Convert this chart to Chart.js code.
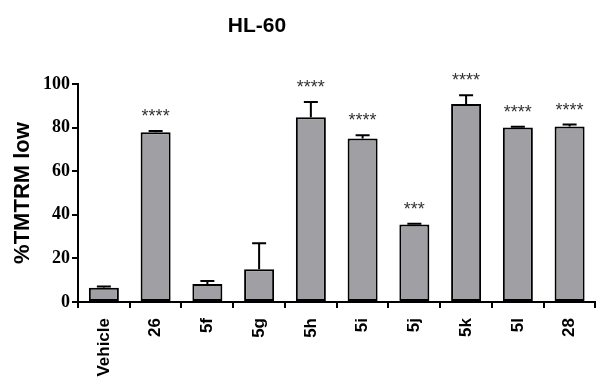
<!DOCTYPE html>
<html>
<head>
<meta charset="utf-8">
<script src="https://cdn.jsdelivr.net/npm/chart.js@4"></script>
<style>
  html, body { margin: 0; padding: 0; background: #fff; }
  #wrap { width: 600px; height: 378px; position: relative; }
</style>
</head>
<body>
<div id="wrap"><canvas id="c" width="600" height="378"></canvas></div>
<script>
const categories = ['Vehicle', '26', '5f', '5g', '5h', '5i', '5j', '5k', '5l', '28'];
const means = [6.5, 77.9, 8.3, 15.0, 84.8, 75.0, 35.6, 90.8, 80.1, 80.5];
const errors = [0.6, 0.5, 1.3, 12.0, 6.9, 1.5, 0.3, 4.0, 0.3, 0.9];
const significance = ['', '****', '', '', '****', '****', '***', '****', '****', '****'];
const yTicks = [0, 20, 40, 60, 80, 100];
const chartTitle = 'HL-60';
const yTitle = '%TMTRM low';

const errorBarPlugin = {
  id: 'errorBars',
  afterDatasetsDraw(chart) {
    const ctx = chart.ctx;
    const meta = chart.getDatasetMeta(0);
    const ys = chart.scales.y;
    ctx.save();
    meta.data.forEach((bar, i) => {
      const x = bar.x;
      const yMean = ys.getPixelForValue(means[i]);
      const yTop = ys.getPixelForValue(means[i] + errors[i]);
      ctx.strokeStyle = '#000';
      ctx.lineWidth = 2;
      ctx.beginPath();
      ctx.moveTo(x, yMean);
      ctx.lineTo(x, yTop);
      ctx.moveTo(x - 7, yTop);
      ctx.lineTo(x + 7, yTop);
      ctx.stroke();
      if (significance[i]) {
        ctx.fillStyle = '#333';
        ctx.font = '18px "Liberation Sans", Arial, sans-serif';
        ctx.textAlign = 'center';
        ctx.textBaseline = 'top';
        ctx.fillText(significance[i], x, yTop - 23);
      }
    });
    ctx.restore();
  }
};

const titlePlugin = {
  id: 'customTitle',
  afterDraw(chart) {
    const ctx = chart.ctx;
    ctx.save();
    ctx.fillStyle = '#000';
    ctx.font = 'bold 21px "Liberation Sans", Arial, sans-serif';
    ctx.textAlign = 'center';
    ctx.textBaseline = 'middle';
    ctx.fillText(chartTitle, 257, 26);
    ctx.restore();
  }
};

new Chart(document.getElementById('c'), {
  type: 'bar',
  data: {
    labels: categories,
    datasets: [{
      data: means,
      backgroundColor: '#a0a0a4',
      borderColor: '#000',
      borderWidth: 2,
      borderSkipped: false,
      barPercentage: 0.58,
      categoryPercentage: 1.0
    }]
  },
  options: {
    responsive: false,
    animation: false,
    devicePixelRatio: 1,
    layout: { padding: { top: 84, right: 0, left: 0, bottom: 0 } },
    plugins: {
      legend: { display: false },
      tooltip: { enabled: false },
      title: { display: false }
    },
    scales: {
      x: {
        grid: { drawOnChartArea: false, drawTicks: true, tickLength: 6, color: '#000', lineWidth: 2 },
        border: { color: '#000', width: 2 },
        ticks: {
          color: '#000',
          font: { family: '"Liberation Sans", Arial, sans-serif', weight: 'bold', size: 17 },
          minRotation: 90, maxRotation: 90, padding: 10
        },
        afterFit(scale) { scale.height = 76; }
      },
      y: {
        min: 0, max: 100,
        afterBuildTicks(scale) { scale.ticks = yTicks.map(v => ({ value: v })); },
        grid: { drawOnChartArea: false, drawTicks: true, tickLength: 6, color: '#000', lineWidth: 2 },
        border: { color: '#000', width: 2 },
        ticks: {
          color: '#000',
          font: { family: '"Liberation Serif", "Times New Roman", serif', weight: 'bold', size: 18 },
          padding: 2
        },
        title: {
          display: true,
          text: yTitle,
          color: '#000',
          font: { family: '"Liberation Sans", Arial, sans-serif', weight: 'bold', size: 22 },
          padding: { top: 10, bottom: 4 }
        },
        afterFit(scale) { scale.width = 78; }
      }
    }
  },
  plugins: [errorBarPlugin, titlePlugin]
});
</script>
</body>
</html>
